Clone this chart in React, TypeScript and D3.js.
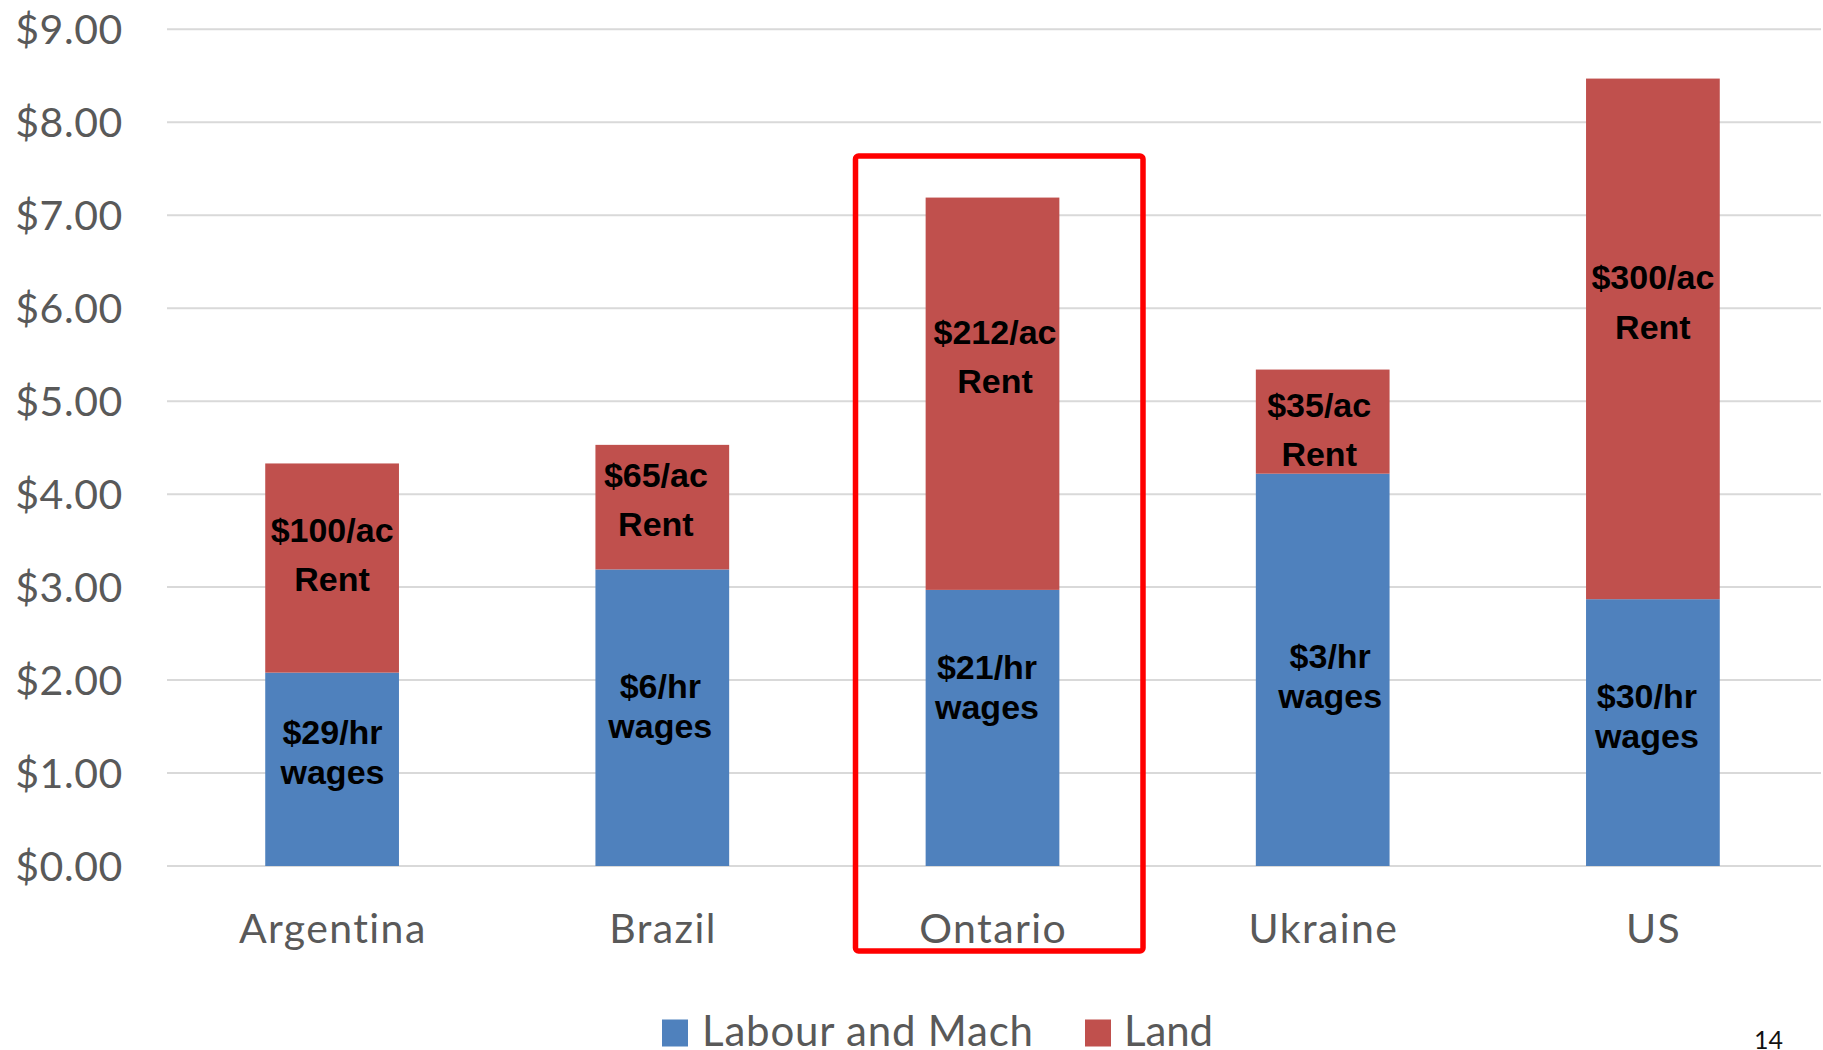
import React from "react";
import * as d3 from "d3";

// ---- data ----
const categories = ["Argentina", "Brazil", "Ontario", "Ukraine", "US"];
const labourMach = [2.08, 3.19, 2.97, 4.22, 2.87];
const land = [2.25, 1.34, 4.22, 1.12, 5.6];
const rentText = ["$100/ac", "$65/ac", "$212/ac", "$35/ac", "$300/ac"];
const wageText = ["$29/hr", "$6/hr", "$21/hr", "$3/hr", "$30/hr"];
const yTicks = [0, 1, 2, 3, 4, 5, 6, 7, 8, 9];
const seriesNames = ["Labour and Mach", "Land"];
const highlighted = "Ontario";
const pageNumber = "14";

// ---- layout (annotation placement, in axis units / px offsets) ----
const rentLabelAt = [3.489, 4.079, 5.619, 4.833, 6.205];
const wageLabelAt = [1.312, 1.804, 2.007, 2.127, 1.696];
const rentDx = [0, -6.4, 2.5, -3.5, 0];
const wageDx = [0.4, -2, -5.5, 7.5, -6];

const W = 1823;
const H = 1050;
const BLUE = "#4F81BD";
const RED = "#C0504D";
const GRID = "#D9D9D9";
const AXIS_TEXT = "#595959";
const UI_FONT = "Lato, 'Open Sans', sans-serif";
const LABEL_FONT = "'Liberation Sans', Arial, sans-serif";

export default function App() {
  const x = d3
    .scaleBand<string>()
    .domain(categories)
    .range([167, 1818])
    .paddingInner(0.595)
    .paddingOuter(0.2975);
  const y = d3.scaleLinear().domain([0, 9]).range([866, 29.3]);
  const fmt = d3.format("$.2f");

  const rows = categories.map((c, i) => ({
    c,
    i,
    labour: labourMach[i],
    land: land[i],
  }));
  const stack = d3.stack<any>().keys(["labour", "land"])(rows);
  const colors = [BLUE, RED];

  const bw = x.bandwidth();
  const hx = (x(highlighted) as number) + bw / 2;

  return (
    <svg
      width={W}
      height={H}
      style={{ position: "absolute", left: 0, top: 0, background: "#fff" }}
    >
      {/* gridlines */}
      {yTicks.map((t) => (
        <line
          key={"g" + t}
          x1={167}
          x2={1821}
          y1={y(t)}
          y2={y(t)}
          stroke={GRID}
          strokeWidth={2}
        />
      ))}
      {/* y tick labels */}
      {yTicks.map((t) => (
        <text
          key={"t" + t}
          x={123}
          y={y(t) + 14.5}
          textAnchor="end"
          fontFamily={UI_FONT}
          fontSize={41}
          letterSpacing={0.6}
          fill={AXIS_TEXT}
        >
          {fmt(t)}
        </text>
      ))}
      {/* bars */}
      {stack.map((s, si) => (
        <g key={"s" + si} fill={colors[si]}>
          {s.map((d: any, i: number) => (
            <rect
              key={i}
              x={x(categories[i])}
              width={bw}
              y={y(d[1])}
              height={y(d[0]) - y(d[1])}
            />
          ))}
        </g>
      ))}
      {/* bar annotations */}
      {categories.map((c, i) => {
        const cx = (x(c) as number) + bw / 2;
        return (
          <g
            key={"l" + c}
            fontFamily={LABEL_FONT}
            fontWeight="bold"
            fontSize={34}
            fill="#000"
            textAnchor="middle"
          >
            <text x={cx + rentDx[i]} y={y(rentLabelAt[i])}>
              {rentText[i]}
            </text>
            <text x={cx + rentDx[i]} y={y(rentLabelAt[i]) + 49.5}>
              Rent
            </text>
            <text x={cx + wageDx[i]} y={y(wageLabelAt[i])}>
              {wageText[i]}
            </text>
            <text x={cx + wageDx[i]} y={y(wageLabelAt[i]) + 39.5}>
              wages
            </text>
          </g>
        );
      })}
      {/* category labels */}
      {categories.map((c) => (
        <text
          key={"c" + c}
          x={(x(c) as number) + bw / 2 + 0.7}
          y={942.5}
          textAnchor="middle"
          fontFamily={UI_FONT}
          fontSize={41}
          letterSpacing={1.4}
          fill={AXIS_TEXT}
        >
          {c}
        </text>
      ))}
      {/* highlight box */}
      <rect
        x={hx - 137}
        y={156}
        width={287.5}
        height={795}
        rx={3}
        fill="none"
        stroke="#FF0000"
        strokeWidth={5.5}
      />
      {/* legend */}
      <g fontFamily={UI_FONT} fontSize={42} fill={AXIS_TEXT}>
        <rect x={662} y={1019.5} width={26} height={27} fill={BLUE} />
        <text x={702} y={1046} textLength={331} lengthAdjust="spacing">
          {seriesNames[0]}
        </text>
        <rect x={1085} y={1019.5} width={26} height={27} fill={RED} />
        <text x={1124} y={1046} textLength={89} lengthAdjust="spacing">
          {seriesNames[1]}
        </text>
      </g>
      <text
        x={1754}
        y={1049}
        fontFamily={UI_FONT}
        fontSize={25}
        fill="#111"
      >
        {pageNumber}
      </text>
    </svg>
  );
}
